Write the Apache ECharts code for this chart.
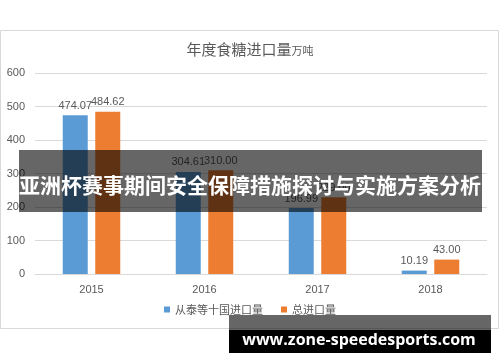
<!DOCTYPE html>
<html><head><meta charset="utf-8">
<script src="https://cdn.jsdelivr.net/npm/echarts@6/dist/echarts.min.js"></script>
<style>html,body{margin:0;padding:0;background:#fff}#c{width:500px;height:362px}</style>
</head><body><div id="c"></div>
<script>
const years = ['2015', '2016', '2017', '2018'];
const tenCountries = [474.07, 304.61, 196.99, 10.19];
const totalImport = [484.62, 310.00, 229.00, 43.00];
const seriesNames = ['从泰等十国进口量', '总进口量'];
const yTicks = [0, 100, 200, 300, 400, 500, 600];

const chart = echarts.init(document.getElementById('c'), null, {renderer: 'canvas'});
const labelStyle = {show: true, position: 'top', distance: 4, color: '#595959', fontSize: 11,
  fontFamily: 'Liberation Sans, Arial, sans-serif', formatter: p => p.value.toFixed(2)};
chart.setOption({
  animation: false,
  title: {
    text: '{a|年度食糖进口量}{b|万吨}', left: 'center', top: 37,
    textStyle: {rich: {
      a: {fontSize: 15, color: '#595959', fontWeight: 'normal', fontFamily: 'Noto Sans CJK SC'},
      b: {fontSize: 11, color: '#595959', fontWeight: 'normal', fontFamily: 'Noto Sans CJK SC', padding: [3, 0, 0, 0]}
    }}
  },
  legend: {
    bottom: 42, left: 'center', itemWidth: 6, itemHeight: 6, itemGap: 18, icon: 'rect',
    textStyle: {color: '#595959', fontSize: 11, fontFamily: 'Noto Sans CJK SC'},
    data: seriesNames
  },
  grid: {left: 35, right: 13, top: 73, bottom: 88},
  xAxis: {
    type: 'category', data: years,
    axisLine: {lineStyle: {color: '#d9d9d9'}}, axisTick: {show: false},
    axisLabel: {color: '#595959', fontSize: 11, margin: 10, fontFamily: 'Liberation Sans, Arial, sans-serif'}
  },
  yAxis: {
    type: 'value', min: yTicks[0], max: yTicks[yTicks.length - 1], interval: 100,
    axisLine: {show: false}, axisTick: {show: false},
    splitLine: {lineStyle: {color: '#d9d9d9'}},
    axisLabel: {color: '#595959', fontSize: 11, margin: 10, fontFamily: 'Liberation Sans, Arial, sans-serif'}
  },
  series: [
    {name: seriesNames[0], type: 'bar', data: tenCountries, barWidth: 25, barGap: '30%',
     itemStyle: {color: '#5b9bd5'}, label: labelStyle},
    {name: seriesNames[1], type: 'bar', data: totalImport, barWidth: 25,
     itemStyle: {color: '#ed7d31'}, label: labelStyle}
  ],
  graphic: [
    {type: 'rect', z: -10, shape: {x: 0.5, y: 30.5, width: 498, height: 298},
     style: {fill: 'none', stroke: '#d9d9d9', lineWidth: 1}},
    {type: 'rect', z: 100, shape: {x: 19, y: 150, width: 463, height: 62},
     style: {fill: 'rgba(0,0,0,0.6)'}},
    {type: 'text', z: 101, x: 250, y: 185,
     style: {text: '亚洲杯赛事期间安全保障措施探讨与实施方案分析', fill: '#fff',
       font: 'bold 21px "Noto Sans CJK SC"', textAlign: 'center', textVerticalAlign: 'middle'}},
    {type: 'rect', z: 100, shape: {x: 229, y: 315, width: 262, height: 15},
     style: {fill: 'rgba(0,0,0,0.6)'}},
    {type: 'rect', z: 100, shape: {x: 229, y: 330, width: 262, height: 23},
     style: {fill: '#000'}},
    {type: 'text', z: 101, x: 359, y: 340,
     style: {text: 'www.zone-speedesports.com', fill: '#fff',
       font: 'bold 16px "Open Sans"', textAlign: 'center', textVerticalAlign: 'middle'}}
  ]
});
</script></body></html>
